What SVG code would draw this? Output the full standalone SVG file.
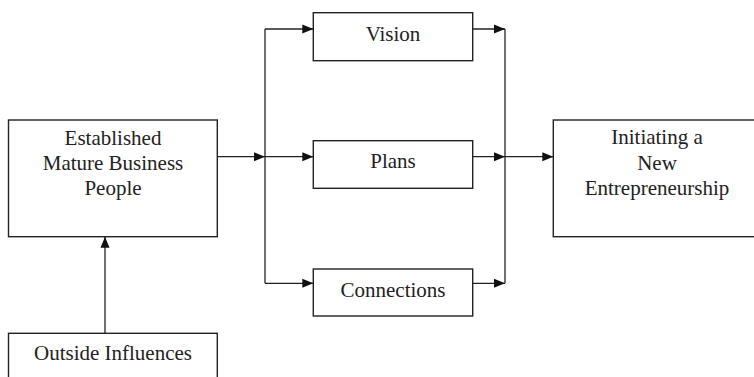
<svg xmlns="http://www.w3.org/2000/svg" width="754" height="377" viewBox="0 0 754 377">
<style>
.box{fill:#fff;stroke:#222;stroke-width:1.4}
.t{font-family:"Liberation Serif","Times New Roman",serif;font-size:21px;fill:#222;text-anchor:middle}
.c{fill:none;stroke:#222;stroke-width:1.3}
</style>
<defs>
<marker id="ah" markerWidth="12" markerHeight="10" refX="11" refY="5" orient="auto" markerUnits="userSpaceOnUse">
<path d="M0,0.5 L11,5 L0,9.5 z" fill="#111"/>
</marker>
</defs>
<rect width="754" height="377" fill="#fff"/>
<g id="connectors">
<path class="c" d="M217.3,156.7 H265" marker-end="url(#ah)"/>
<path class="c" d="M265,29 V283.3"/>
<path class="c" d="M265,29 H313.3" marker-end="url(#ah)"/>
<path class="c" d="M265,156.7 H313.3" marker-end="url(#ah)"/>
<path class="c" d="M265,283.3 H313.3" marker-end="url(#ah)"/>
<path class="c" d="M472.7,29 H505" marker-end="url(#ah)"/>
<path class="c" d="M472.7,156.7 H505" marker-end="url(#ah)"/>
<path class="c" d="M472.7,283.3 H505" marker-end="url(#ah)"/>
<path class="c" d="M505,29 V283.3"/>
<path class="c" d="M505,156.7 H553.3" marker-end="url(#ah)"/>
<path class="c" d="M105,333.3 V236.7" marker-end="url(#ah)"/>
</g>
<g id="established">
<rect class="box" x="8.5" y="120" width="208.8" height="116.7"/>
<text class="t" x="113" y="145">Established</text>
<text class="t" x="113" y="170">Mature Business</text>
<text class="t" x="113" y="194.5">People</text>
</g>
<g id="vision">
<rect class="box" x="313.3" y="12.7" width="159.4" height="48"/>
<text class="t" x="393" y="41">Vision</text>
</g>
<g id="plans">
<rect class="box" x="313.3" y="140.7" width="159.4" height="47.6"/>
<text class="t" x="393" y="168">Plans</text>
</g>
<g id="connections">
<rect class="box" x="313.3" y="269" width="159.4" height="47"/>
<text class="t" x="393" y="296.5">Connections</text>
</g>
<g id="initiating">
<rect class="box" x="553.3" y="120" width="208" height="116.7"/>
<text class="t" x="657" y="144">Initiating a</text>
<text class="t" x="657" y="170">New</text>
<text class="t" x="657" y="194.5">Entrepreneurship</text>
</g>
<g id="outside">
<rect class="box" x="8.5" y="333.3" width="208.8" height="60"/>
<text class="t" x="113" y="360">Outside Influences</text>
</g>
</svg>
